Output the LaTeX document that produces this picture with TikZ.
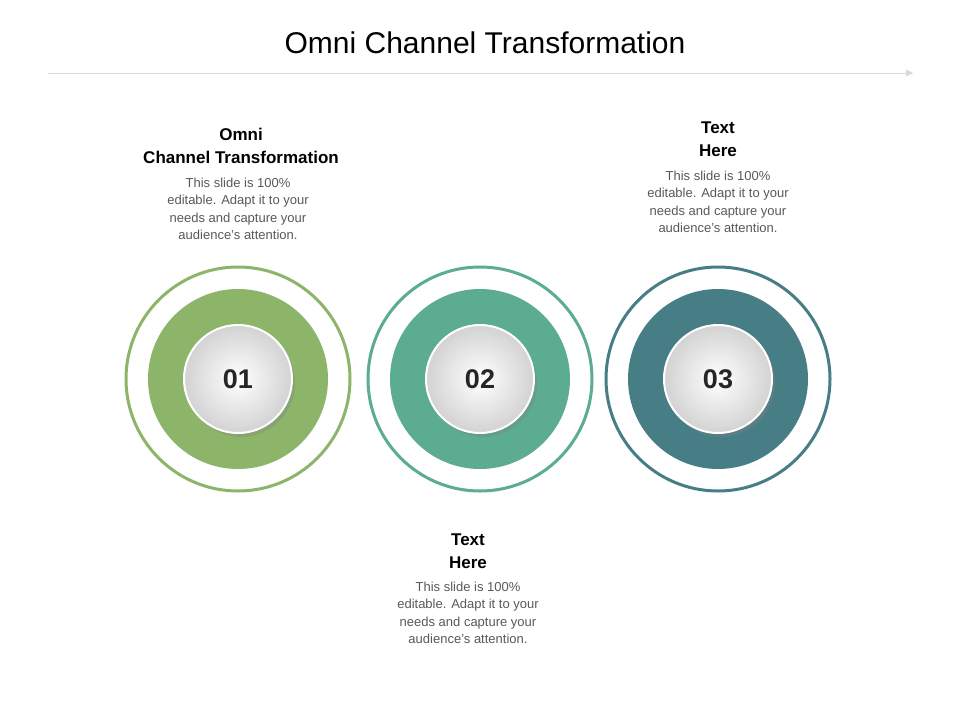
\documentclass[tikz,border=0pt]{standalone}
\usepackage{fontspec}
\setmainfont{Liberation Sans}
\usetikzlibrary{arrows.meta,shadows}
\definecolor{cA}{HTML}{8DB56A}
\definecolor{cB}{HTML}{5BAC90}
\definecolor{cC}{HTML}{477E86}
\definecolor{bodyc}{HTML}{595959}
\tikzset{
 ring/.style={circle,draw=#1,line width=3pt,minimum size=224pt,inner sep=0pt},
 disc/.style={circle,fill=#1,minimum size=180pt,inner sep=0pt},
 knob/.style={circle,minimum size=108pt,inner sep=0pt,outer color=gray!35,inner color=white,
   draw=white,line width=2pt,drop shadow={shadow xshift=3pt,shadow yshift=-4pt,opacity=0.35},
   font=\fontsize{27}{30}\selectfont\bfseries,text=black!85},
 head/.style={align=center,font=\fontsize{17}{23}\selectfont\bfseries,text=black},
 body/.style={align=center,font=\fontsize{13}{17.5}\selectfont,text=bodyc}
}
\begin{document}
\begin{tikzpicture}[x=1pt,y=-1pt]
\useasboundingbox[fill=white] (0,0) rectangle (960,720);
\node[font=\fontsize{30}{34}\selectfont,text=black] (title) at (485,43) {Omni Channel Transformation};
\coordinate (l1) at (48,73); \coordinate (l2) at (913,73);
\draw[gray!30,line width=1pt,-{Triangle[length=7pt,width=7pt]}] (l1) -- (l2);
\foreach \n/\x/\c/\t in {a/238/cA/01,b/480/cB/02,c/718/cC/03}{
 \node[ring=\c] (r\n) at (\x,379) {};
 \node[disc=\c] (d\n) at (\x,379) {};
 \node[knob] (k\n) at (\x,379) {\t};
}
\node[head] (h1) at (241,146) {Omni\\Channel Transformation};
\node[body] (b1) at (238,209) {This slide is 100\%\\editable. Adapt it to your\\needs and capture your\\audience's attention.};
\node[head] (h3) at (718,139) {Text\\Here};
\node[body] (b3) at (718,202) {This slide is 100\%\\editable. Adapt it to your\\needs and capture your\\audience's attention.};
\node[head] (h2) at (468,551) {Text\\Here};
\node[body] (b2) at (468,613) {This slide is 100\%\\editable. Adapt it to your\\needs and capture your\\audience's attention.};
\end{tikzpicture}
\end{document}
